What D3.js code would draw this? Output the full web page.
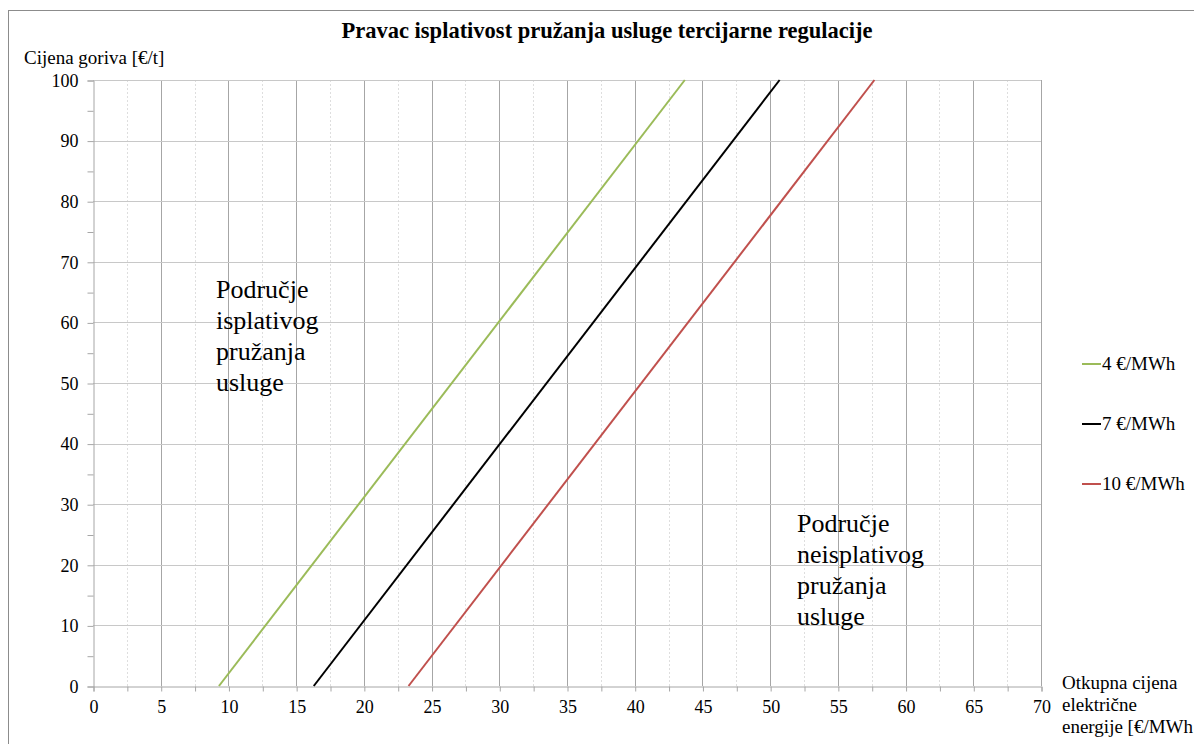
<!DOCTYPE html>
<html>
<head>
<meta charset="utf-8">
<script src="https://cdn.jsdelivr.net/npm/d3@7"></script>
<style>
  html, body { margin: 0; padding: 0; background: #fff; }
</style>
</head>
<body>
<svg id="chart" width="1194" height="744"></svg>
<script>
// Break-even lines: fuel price [€/t] vs. electricity purchase price [€/MWh]
const seriesNames = ["4 €/MWh", "7 €/MWh", "10 €/MWh"];
const seriesColors = ["#9bbb59", "#000000", "#c0504d"];
const priceAtZeroFuel = [9.3, 16.3, 23.3];     // x where fuel price = 0
const priceAtMaxFuel = [43.7, 50.7, 57.7];     // x where fuel price = 100
const fuelLimits = [0, 100];

const xTicks = d3.range(0, 71, 5);
const xMinorTicks = d3.range(0, 70.1, 2.5);
const yTicks = d3.range(0, 101, 10);
const yMinorTicks = d3.range(0, 100.1, 5);

const FONT = "Liberation Serif";
const svg = d3.select("#chart");
const W = 1194, H = 744;
const plot = { left: 93, right: 1041, top: 80, bottom: 686 };

const x = d3.scaleLinear().domain([0, 70]).range([plot.left, plot.right]);
const y = d3.scaleLinear().domain([0, 100]).range([plot.bottom, plot.top]);

// outer frame
svg.append("rect")
  .attr("x", 8.5).attr("y", 10.5)
  .attr("width", W).attr("height", H)
  .attr("fill", "none").attr("stroke", "#8c8c8c").attr("stroke-width", 1);

// title
svg.append("text")
  .attr("x", 607).attr("y", 38)
  .attr("text-anchor", "middle")
  .attr("font-family", FONT)
  .attr("font-size", 22.5).attr("font-weight", "bold")
  .text("Pravac isplativost pružanja usluge tercijarne regulacije");

// minor vertical gridlines (dashed)
svg.append("g").selectAll("line")
  .data(xMinorTicks.filter(d => d % 5 !== 0))
  .join("line")
  .attr("x1", d => Math.round(x(d)) + 0.5).attr("x2", d => Math.round(x(d)) + 0.5)
  .attr("y1", plot.top).attr("y2", plot.bottom)
  .attr("stroke", "#dedede").attr("stroke-dasharray", "2,2");

// major vertical gridlines
svg.append("g").selectAll("line")
  .data(xTicks.filter(d => d > 0))
  .join("line")
  .attr("x1", d => Math.round(x(d)) + 0.5).attr("x2", d => Math.round(x(d)) + 0.5)
  .attr("y1", plot.top).attr("y2", plot.bottom)
  .attr("stroke", "#a6a6a6");

// horizontal gridlines
svg.append("g").selectAll("line")
  .data(yTicks.filter(d => d > 0))
  .join("line")
  .attr("x1", plot.left).attr("x2", plot.right)
  .attr("y1", d => Math.round(y(d)) + 0.5).attr("y2", d => Math.round(y(d)) + 0.5)
  .attr("stroke", "#c8c8c8");

// axes
const xAxis = d3.axisBottom(x).tickValues(xMinorTicks).tickSize(5)
  .tickFormat(d => (d % 5 === 0 ? d : ""));
const gx = svg.append("g").attr("transform", `translate(0.5,${Math.round(y(0)) + 0.5})`).call(xAxis)
  .attr("font-family", FONT).attr("font-size", 18);
gx.select(".domain").attr("stroke", "#a6a6a6");
gx.selectAll(".tick line").attr("stroke", "#a6a6a6");
gx.selectAll(".tick text").attr("fill", "#000").attr("dy", "1.05em");

const yAxis = d3.axisLeft(y).tickValues(yMinorTicks).tickSize(6)
  .tickFormat(d => (d % 10 === 0 ? d : ""));
const gy = svg.append("g").attr("transform", `translate(${plot.left + 0.5},0.5)`).call(yAxis)
  .attr("font-family", FONT).attr("font-size", 18);
gy.select(".domain").attr("stroke", "#a6a6a6");
gy.selectAll(".tick line").attr("stroke", "#a6a6a6");
gy.selectAll(".tick text").attr("fill", "#000").attr("x", -15);

// axis titles
svg.append("text")
  .attr("x", 24).attr("y", 64)
  .attr("font-family", FONT).attr("font-size", 19)
  .text("Cijena goriva [€/t]");

const xTitle = svg.append("text").attr("font-family", FONT).attr("font-size", 19);
["Otkupna cijena", "električne", "energije [€/MWh"].forEach((t, i) => {
  xTitle.append("tspan").attr("x", 1062).attr("y", 689 + i * 22).text(t);
});

// series lines
const line = d3.line().x(d => x(d[0])).y(d => y(d[1]));
seriesNames.forEach((name, i) => {
  const pts = [[priceAtZeroFuel[i], fuelLimits[0]], [priceAtMaxFuel[i], fuelLimits[1]]];
  svg.append("path")
    .datum(pts)
    .attr("d", line)
    .attr("fill", "none")
    .attr("stroke", seriesColors[i])
    .attr("stroke-width", 2);
});

// region annotations
const regionText = [
  { x: 216, y: 298, lines: ["Područje", "isplativog", "pružanja", "usluge"] },
  { x: 797, y: 532, lines: ["Područje", "neisplativog", "pružanja", "usluge"] }
];
regionText.forEach(r => {
  const t = svg.append("text").attr("font-family", FONT).attr("font-size", 26);
  r.lines.forEach((l, i) => t.append("tspan").attr("x", r.x).attr("y", r.y + i * 31).text(l));
});

// legend
const legend = svg.append("g");
seriesNames.forEach((name, i) => {
  const ly = 364 + i * 60;
  legend.append("line")
    .attr("x1", 1082).attr("x2", 1101)
    .attr("y1", ly).attr("y2", ly)
    .attr("stroke", seriesColors[i]).attr("stroke-width", 2);
  legend.append("text")
    .attr("x", 1102).attr("y", ly + 6)
    .attr("font-family", FONT).attr("font-size", 19)
    .text(name);
});
</script>
</body>
</html>
